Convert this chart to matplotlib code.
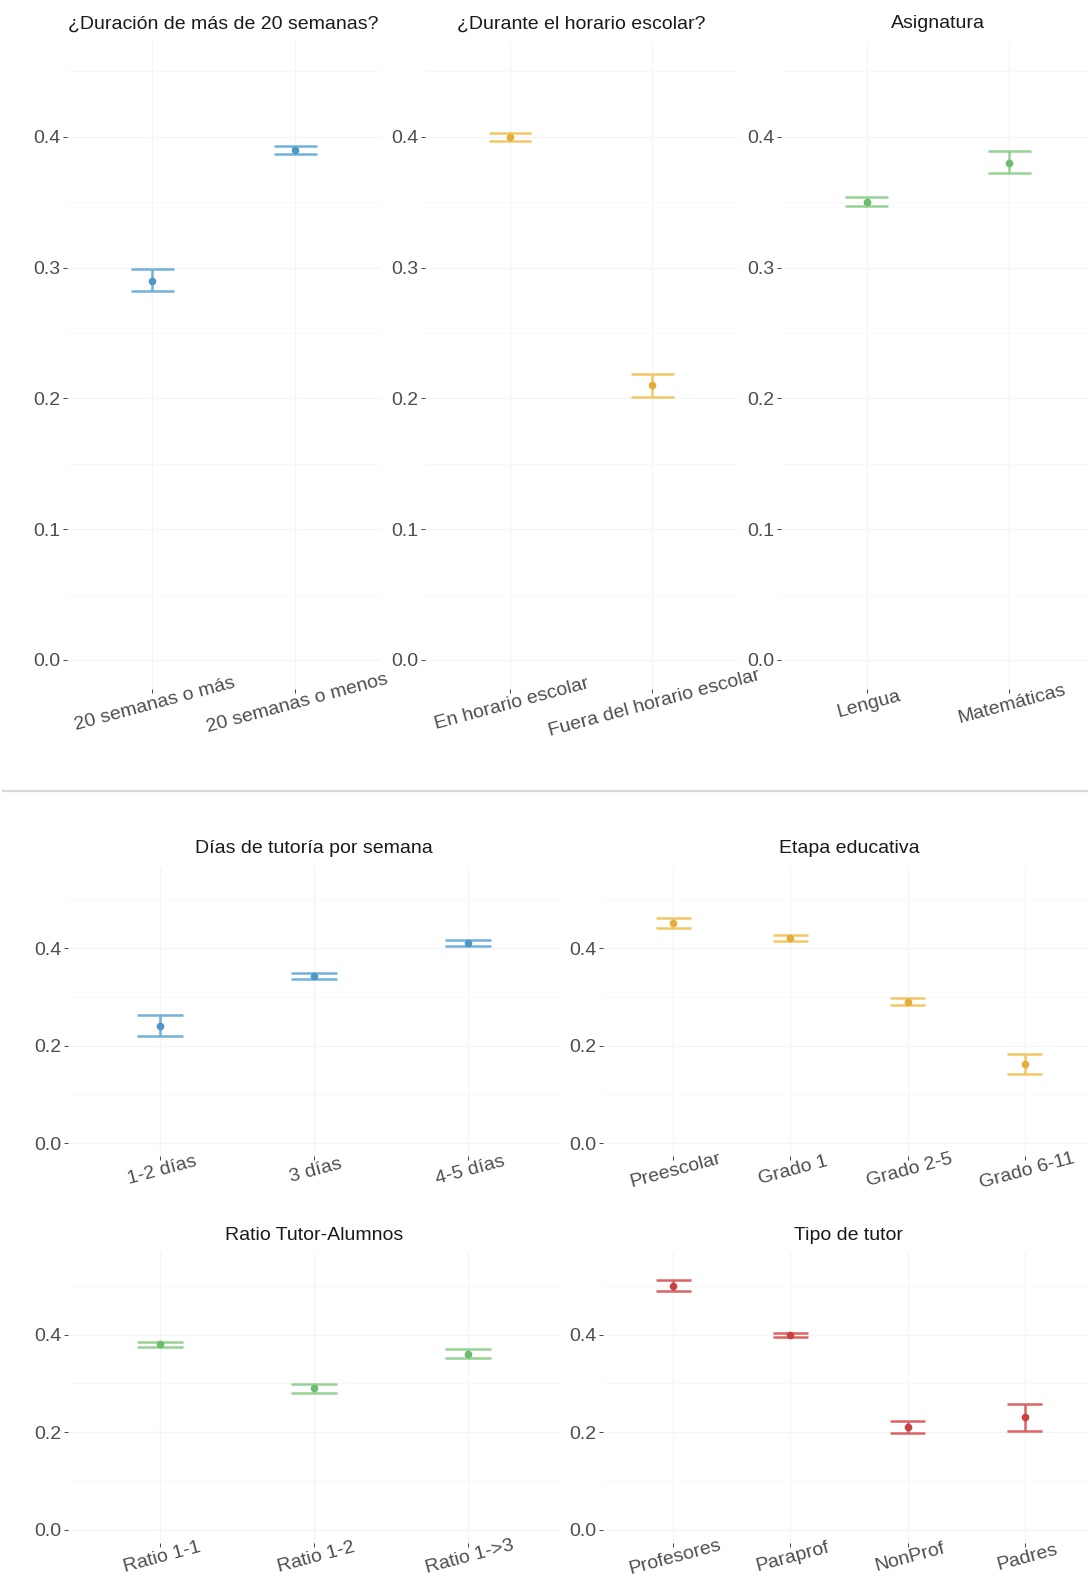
import numpy as np
import matplotlib
matplotlib.use("Agg")
import matplotlib.pyplot as plt
from matplotlib.lines import Line2D

plt.rcParams["font.family"] = ["Liberation Sans", "DejaVu Sans"]

# ---- data: estimated proportion with lower / upper confidence bounds ----
dur_labels = ["20 semanas o más", "20 semanas o menos"]
dur_mean = [0.290, 0.390]
dur_low = [0.282, 0.387]
dur_high = [0.299, 0.393]

hor_labels = ["En horario escolar", "Fuera del horario escolar"]
hor_mean = [0.400, 0.210]
hor_low = [0.397, 0.201]
hor_high = [0.403, 0.219]

asig_labels = ["Lengua", "Matemáticas"]
asig_mean = [0.350, 0.380]
asig_low = [0.347, 0.372]
asig_high = [0.354, 0.389]

dias_labels = ["1-2 días", "3 días", "4-5 días"]
dias_mean = [0.241, 0.342, 0.410]
dias_low = [0.220, 0.336, 0.404]
dias_high = [0.263, 0.348, 0.416]

etapa_labels = ["Preescolar", "Grado 1", "Grado 2-5", "Grado 6-11"]
etapa_mean = [0.452, 0.420, 0.290, 0.162]
etapa_low = [0.441, 0.415, 0.283, 0.141]
etapa_high = [0.461, 0.426, 0.298, 0.183]

ratio_labels = ["Ratio 1-1", "Ratio 1-2", "Ratio 1->3"]
ratio_mean = [0.380, 0.291, 0.361]
ratio_low = [0.375, 0.281, 0.352]
ratio_high = [0.384, 0.299, 0.371]

tutor_labels = ["Profesores", "Paraprof", "NonProf", "Padres"]
tutor_mean = [0.500, 0.400, 0.210, 0.230]
tutor_low = [0.489, 0.394, 0.199, 0.202]
tutor_high = [0.511, 0.404, 0.222, 0.258]

# ---- colours (error bar, point) ----
BLUE = ("#72B1D9", "#4F97C8")
YELLOW = ("#F2C766", "#E5AE3A")
GREEN = ("#95D395", "#6DBB6D")
RED = ("#DA6464", "#C94040")

W, H = 1088, 1578
fig = plt.figure(figsize=(W / 100, H / 100), dpi=100)

TEXT_AXIS = "#4D4D4D"
TEXT_STRIP = "#1A1A1A"
FS = 14


def panel(box, title, labels, mean, low, high, colors, ylim, major, minor):
    x0, x1, yt, yb = box
    ax = fig.add_axes([x0 / W, 1 - yb / H, (x1 - x0) / W, (yb - yt) / H])
    n = len(labels)
    x = np.arange(1, n + 1)
    half = 0.15
    # one path per panel: top cap, stem, bottom cap for every category
    px, py = [], []
    for xi, lo, hi in zip(x, low, high):
        px += [xi - half, xi + half, np.nan, xi, xi, np.nan, xi - half, xi + half, np.nan]
        py += [hi, hi, np.nan, hi, lo, np.nan, lo, lo, np.nan]
    ax.plot(px, py, color=colors[0], lw=1.8, solid_capstyle="butt", zorder=2)
    ax.plot(x, mean, "o", ms=5.5, color=colors[1], mec="none", zorder=3)

    ax.set_xlim(0.4, n + 0.6)
    ax.set_ylim(*ylim)
    ax.set_yticks(major)
    ax.set_yticklabels([f"{v:.1f}" for v in major])
    ax.set_yticks(minor, minor=True)
    ax.set_xticks(x)
    ax.set_xticklabels(labels)
    for s in ax.spines.values():
        s.set_visible(False)
    ax.grid(which="major", color="#F4F4F4", lw=0.9)
    ax.grid(which="minor", axis="y", color="#F7F7F7", lw=0.6)
    ax.set_axisbelow(True)
    ax.tick_params(which="major", length=3, width=0.7, color="#444444",
                   labelsize=FS, labelcolor=TEXT_AXIS, pad=1.5)
    ax.tick_params(which="minor", length=0)
    for lab in ax.get_xticklabels():
        lab.set_rotation(15)
        lab.set_ha("center")
        lab.set_va("top")
        lab.set_rotation_mode("anchor")
    ax.annotate(title, xy=(0.5, 1), xycoords="axes fraction",
                xytext=(0, 18), textcoords="offset pixels",
                ha="center", va="center", fontsize=FS, color=TEXT_STRIP)
    return ax


top_ylim = (-0.0225, 0.4725)
top_major = [0.0, 0.1, 0.2, 0.3, 0.4]
top_minor = [0.05, 0.15, 0.25, 0.35, 0.45]
bot_ylim = (-0.027, 0.567)
bot_major = [0.0, 0.2, 0.4]
bot_minor = [0.1, 0.3, 0.5]

panel((66.5, 381, 42, 689.4), "¿Duración de más de 20 semanas?",
      dur_labels, dur_mean, dur_low, dur_high, BLUE, top_ylim, top_major, top_minor)
panel((424.6, 737.7, 42, 689.4), "¿Durante el horario escolar?",
      hor_labels, hor_mean, hor_low, hor_high, YELLOW, top_ylim, top_major, top_minor)
panel((781, 1095, 42, 689.4), "Asignatura",
      asig_labels, asig_mean, asig_low, asig_high, GREEN, top_ylim, top_major, top_minor)

panel((67.6, 560, 866.6, 1156.2), "Días de tutoría por semana",
      dias_labels, dias_mean, dias_low, dias_high, BLUE, bot_ylim, bot_major, bot_minor)
panel((603, 1095, 866.6, 1156.2), "Etapa educativa",
      etapa_labels, etapa_mean, etapa_low, etapa_high, YELLOW, bot_ylim, bot_major, bot_minor)
panel((67.6, 560, 1253.1, 1542.7), "Ratio Tutor-Alumnos",
      ratio_labels, ratio_mean, ratio_low, ratio_high, GREEN, bot_ylim, bot_major, bot_minor)
panel((603, 1095, 1253.1, 1542.7), "Tipo de tutor",
      tutor_labels, tutor_mean, tutor_low, tutor_high, RED, bot_ylim, bot_major, bot_minor)

# divider between the two figure blocks
fig.add_artist(Line2D([3 / W, 1.0], [1 - 791 / H] * 2, color="#D8D8D8", lw=1.6))

fig.savefig("out.png", dpi=100, facecolor="white")
